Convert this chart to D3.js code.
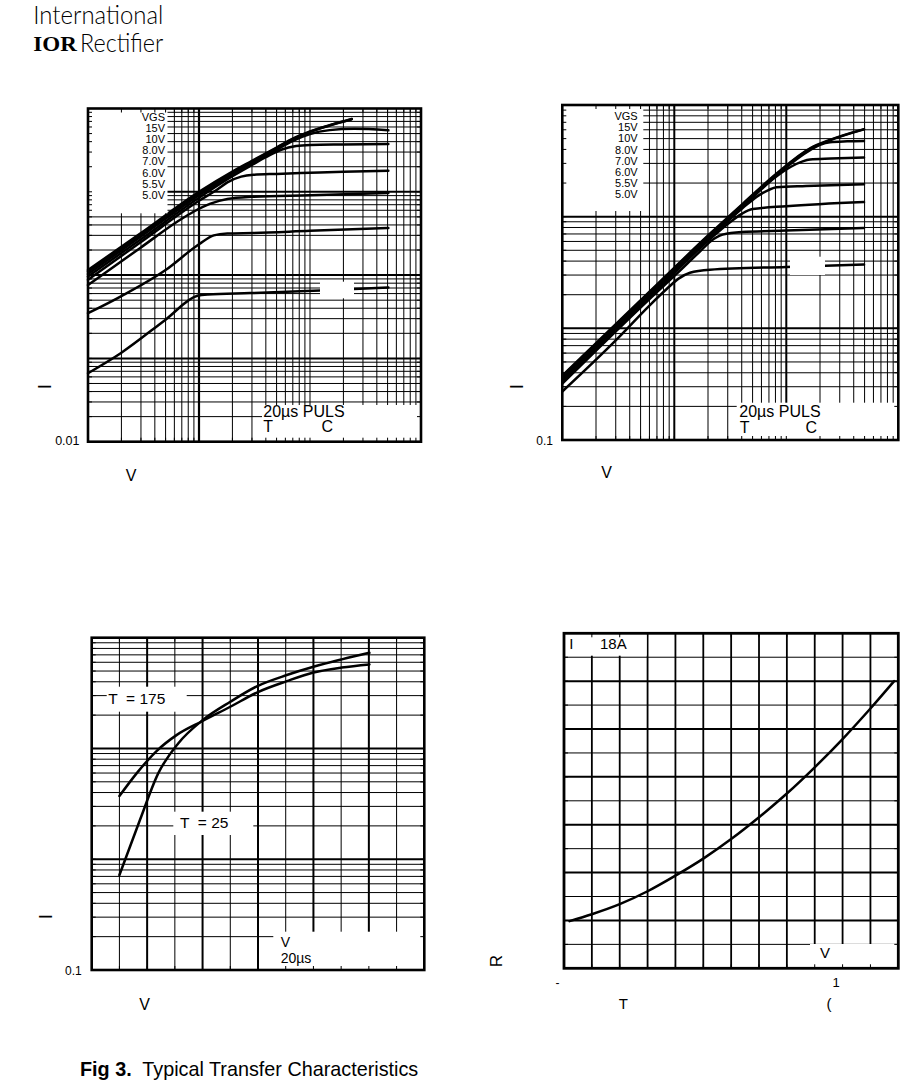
<!DOCTYPE html>
<html><head><meta charset="utf-8">
<script src="https://cdn.jsdelivr.net/npm/d3@7"></script>
<style>
html,body{margin:0;padding:0;background:#fff;}
svg{display:block;}
text{font-family:"Liberation Sans",Arial,Helvetica,sans-serif;fill:#000;}
</style></head><body>
<svg id="page" width="922" height="1081"></svg>
<script>
// ===================== DATA =====================
const vgsLegend = ["VGS","15V","10V","8.0V","7.0V","6.0V","5.5V","5.0V"];

// Fig 1 : ID (A) vs VDS (V), Tj = 25 C   -> [VDS, ID]
const fig1_15V  = [[0.1,1.15],[0.3,3.2],[1,10],[2,17.5],[3,23.5],[5,34],[7,43.5],[10,53],[15,63],[23.8,75]];
const fig1_10V  = [[0.1,1.10],[0.3,3.05],[1,9.6],[2,17],[3,23],[5,33.5],[7,43],[10,52.5],[15,62.5],[23.8,74.5]];
const fig1_8V   = [[0.1,1.03],[0.3,2.9],[1,9.1],[2,16.3],[3,22.2],[5,32],[7,41],[10,49.5],[15,55],[25,57],[50.8,54.7]];
const fig1_7V   = [[0.1,0.96],[0.3,2.7],[1,8.5],[2,15.4],[3,21],[4,26],[5.5,32],[7.5,35.5],[10,36.5],[20,37],[50.8,37.5]];
const fig1_6V   = [[0.1,0.88],[0.3,2.5],[1,7.8],[1.45,10.6],[1.8,13],[2.4,15.2],[3.1,16],[5,16.4],[10,16.9],[20,17.4],[50.8,17.9]];
const fig1_5V5  = [[0.1,0.76],[0.3,2.15],[0.64,4.4],[0.9,5.8],[1.27,7.2],[1.8,8.2],[3,8.7],[10,9.1],[50.8,9.7]];
const fig1_5V   = [[0.1,0.349],[0.2,0.56],[0.5,1.15],[1,2.35],[1.36,3.0],[1.8,3.15],[3.1,3.2],[10,3.4],[50.8,3.67]];
const fig1_4V5  = [[0.1,0.0664],[0.197,0.1155],[0.5,0.292],[0.966,0.564],[1.2,0.585],[2.88,0.608],[12.3,0.653],[50.8,0.71]];

// Fig 2 : ID (A) vs VDS (V), Tj = 175 C  -> [VDS, ID]
const fig2_15V  = [[0.1,0.377],[0.607,2.15],[2.08,7.03],[4.1,13.1],[8.2,24.4],[16.3,41],[24.5,48.7],[49.4,60.8]];
const fig2_10V  = [[0.1,0.37],[0.607,2.11],[2.08,6.9],[4.1,12.9],[8.2,24.0],[16.3,40.5],[24.5,48.3],[49.4,60.5]];
const fig2_8V   = [[0.1,0.36],[0.607,2.06],[2.08,6.75],[4.1,12.6],[8.2,23.6],[16.3,39.5],[20,44],[24.5,46.5],[35,47.3],[49.4,47.7]];
const fig2_7V   = [[0.1,0.35],[0.607,2.0],[2.08,6.6],[4.1,12.3],[8.2,23],[11,28],[14,31.3],[16.3,32.5],[25,33.1],[49.4,33.8]];
const fig2_6V   = [[0.1,0.34],[0.607,1.95],[2.08,6.45],[4.1,12],[5.5,15.2],[7,17.4],[8.2,18.3],[15,18.8],[49.4,19.5]];
const fig2_5V5  = [[0.1,0.33],[0.607,1.9],[2.08,6.3],[3,8.6],[4,10.6],[5,11.7],[10,12.4],[49.4,13.5]];
const fig2_5V   = [[0.1,0.32],[0.607,1.85],[1.2,3.5],[1.7,4.9],[2.1,6.0],[2.7,6.9],[4,7.3],[10,7.5],[49.4,7.91]];
const fig2_4V5  = [[0.1,0.272],[0.3,0.78],[0.6,1.6],[0.855,2.25],[1.1,2.8],[1.38,3.15],[2.08,3.35],[10,3.55],[49.4,3.72]];

// Fig 3 : Transfer characteristics ID (A) vs VGS (V)
const fig3_vgs   = [4.5, 4.81, 5.17, 5.53, 6.0, 6.5, 7.0, 7.52, 8.0, 8.51, 9.01];
const fig3_id175 = [3.72, 5.96, 9.48, 13.2, 17.7, 23.8, 32.3, 40.5, 48.5, 53.8, 57.4];
const fig3_vgs25 = [4.5, 4.87, 5.2, 5.56, 6.0, 6.5, 7.0, 7.52, 8.0, 8.51, 9.01];
const fig3_id25  = [0.72, 2.26, 5.96, 11.1, 18.0, 26.4, 36.8, 46.0, 54.6, 63.7, 73.1];

// Fig 4 : normalized RDS(on) vs TJ (C)
const fig4_tj   = [-56, -40, -20, 0, 20, 40, 60, 80, 100, 120, 140, 160, 177];
const fig4_rds  = [0.493, 0.565, 0.67, 0.805, 0.968, 1.146, 1.35, 1.578, 1.826, 2.10, 2.395, 2.714, 3.00];

// ===================== LAYOUT =====================
const svg = d3.select("#page");
svg.append("rect").attr("width",922).attr("height",1081).attr("fill","#fff");

const P1 = {left:88,  right:421,   top:108.5, bottom:441.7};
const P2 = {left:562.3,right:898.3,top:105,   bottom:440};
const P3 = {left:91.7, right:424.3,top:637.7, bottom:970};
const P4 = {left:564,  right:898.3,top:633.3, bottom:968.3};

const isDecade = v => Math.abs(Math.log10(v) - Math.round(Math.log10(v))) < 1e-6;

function drawPanel(P, xs, ys, xGrid, yGrid, xW, yW, curves, boxes, frameW) {
  const g = svg.append("g");
  const xin = xGrid.filter(v => xs(v) > P.left + 0.8 && xs(v) < P.right - 0.8);
  const yin = yGrid.filter(v => ys(v) < P.bottom - 0.8 && ys(v) > P.top + 0.8);
  g.append("g").selectAll("line").data(xin).join("line")
    .attr("x1", d => xs(d)).attr("x2", d => xs(d))
    .attr("y1", P.top).attr("y2", P.bottom)
    .attr("stroke", "#000").attr("stroke-width", d => xW(d));
  g.append("g").selectAll("line").data(yin).join("line")
    .attr("y1", d => ys(d)).attr("y2", d => ys(d))
    .attr("x1", P.left).attr("x2", P.right)
    .attr("stroke", "#000").attr("stroke-width", d => yW(d));
  const line = d3.line().x(d => xs(d[0])).y(d => ys(d[1])).curve(d3.curveMonotoneX);
  g.append("g").selectAll("path").data(curves).join("path")
    .attr("d", d => line(d)).attr("fill", "none").attr("stroke", "#000")
    .attr("stroke-width", 2.5).attr("stroke-linejoin", "round").attr("stroke-linecap", "round");
  g.append("g").selectAll("rect").data(boxes).join("rect")
    .attr("x", d => d[0]).attr("y", d => d[1]).attr("width", d => d[2] - d[0]).attr("height", d => d[3] - d[1])
    .attr("fill", "#fff");
  const tk = 4;
  const tg = g.append("g").attr("stroke", "#000").attr("stroke-width", 1);
  xin.forEach(v => {
    tg.append("line").attr("x1", xs(v)).attr("x2", xs(v)).attr("y1", P.bottom).attr("y2", P.bottom - tk);
    tg.append("line").attr("x1", xs(v)).attr("x2", xs(v)).attr("y1", P.top).attr("y2", P.top + tk);
  });
  yin.forEach(v => {
    tg.append("line").attr("y1", ys(v)).attr("y2", ys(v)).attr("x1", P.left).attr("x2", P.left + tk);
    tg.append("line").attr("y1", ys(v)).attr("y2", ys(v)).attr("x1", P.right).attr("x2", P.right - tk);
  });
  g.append("rect").attr("x", P.left).attr("y", P.top)
    .attr("width", P.right - P.left).attr("height", P.bottom - P.top)
    .attr("fill", "none").attr("stroke", "#000").attr("stroke-width", frameW);
  return g;
}

function txt(x, y, s, size, opts = {}) {
  const t = svg.append("text").attr("x", x).attr("y", y).attr("font-size", size)
    .attr("xml:space", "preserve").style("white-space", "pre").text(s);
  if (opts.anchor) t.attr("text-anchor", opts.anchor);
  if (opts.weight) t.attr("font-weight", opts.weight);
  if (opts.rotate) t.attr("transform", `rotate(${opts.rotate},${x},${y})`).attr("dominant-baseline", "central");
  if (opts.family) t.style("font-family", opts.family);
  return t;
}

// ---------- Fig 1 ----------
{
  const xs = d3.scaleLog().domain([0.1, 100]).range([P1.left, P1.right]);
  const ys = d3.scaleLog().domain([0.01, 100]).range([P1.bottom, P1.top]);
  drawPanel(P1, xs, ys, xs.ticks(), ys.ticks(),
    v => Math.abs(v - 1) < 1e-6 ? 2.2 : 1, v => isDecade(v) ? 2 : 1,
    [fig1_15V, fig1_10V, fig1_8V, fig1_7V, fig1_6V, fig1_5V5, fig1_5V, fig1_4V5],
    [[P1.left, P1.top, 167.5, 213.3], [262, 405, P1.right, P1.bottom], [320, 281.7, 354, 298.3]], 2.6);
  vgsLegend.forEach((s, i) => txt(165, 120.5 + i * 11.2, s, 11, {anchor: "end"}));
  txt(263.3, 417, "20µs PULS", 16);
  txt(263.3, 432, "T", 16);
  txt(321.5, 432, "C", 16);
  txt(79.5, 444.5, "0.01", 12.5, {anchor: "end"});
  txt(131, 480.7, "V", 16, {anchor: "middle"});
  txt(44.5, 386.7, "I", 19, {anchor: "middle", rotate: -90});
}

// ---------- Fig 2 ----------
{
  const xs = d3.scaleLog().domain([0.1, 100]).range([P2.left, P2.right]);
  const ys = d3.scaleLog().domain([0.1, 100]).range([P2.bottom, P2.top]);
  drawPanel(P2, xs, ys, xs.ticks(), ys.ticks(),
    v => isDecade(v) ? 2 : 1, v => isDecade(v) ? 2 : 1,
    [fig2_15V, fig2_10V, fig2_8V, fig2_7V, fig2_6V, fig2_5V5, fig2_5V, fig2_4V5],
    [[P2.left, P2.top, 643.3, 211], [736.7, 402.7, P2.right, P2.bottom], [790, 256.7, 825, 275]], 2.6);
  vgsLegend.forEach((s, i) => txt(637.7, 120 + i * 11.2, s, 11, {anchor: "end"}));
  txt(739.3, 417, "20µs PULS", 16);
  txt(739.8, 433, "T", 16);
  txt(805.5, 433, "C", 16);
  txt(553, 445, "0.1", 12, {anchor: "end"});
  txt(606.7, 478.3, "V", 16, {anchor: "middle"});
  txt(516.3, 386.7, "I", 19, {anchor: "middle", rotate: -90});
}

// ---------- Fig 3 ----------
{
  const xs = d3.scaleLinear().domain([4, 10]).range([P3.left, P3.right]);
  const ys = d3.scaleLog().domain([0.1, 100]).range([P3.bottom, P3.top]);
  const c175 = fig3_vgs.map((v, i) => [v, fig3_id175[i]]);
  const c25 = fig3_vgs25.map((v, i) => [v, fig3_id25[i]]);
  drawPanel(P3, xs, ys, d3.range(4, 10.001, 0.5), ys.ticks(),
    v => Math.abs(v - Math.round(v)) < 1e-6 ? 2 : 1, v => isDecade(v) ? 2 : 1,
    [c175, c25],
    [[106.7, 686.7, 186.7, 711.7], [173.3, 811.7, 253.3, 835], [273.3, 931.7, P3.right, P3.bottom]], 2.6);
  txt(108.3, 703.5, "T  = 175", 15.5);
  txt(180, 828.3, "T  = 25", 15.5);
  txt(280.7, 946.7, "V", 14);
  txt(280.7, 963.3, "20µs", 14);
  txt(81.7, 975, "0.1", 12, {anchor: "end"});
  txt(144.7, 1009.5, "V", 16, {anchor: "middle"});
  txt(45.8, 916.7, "I", 19, {anchor: "middle", rotate: -90});
}

// ---------- Fig 4 ----------
{
  const xs = d3.scaleLinear().domain([-60, 180]).range([P4.left, P4.right]);
  const ys = d3.scaleLinear().domain([0, 3.5]).range([P4.bottom, P4.top]);
  const c = fig4_tj.map((t, i) => [t, fig4_rds[i]]);
  drawPanel(P4, xs, ys, d3.range(-60, 180.001, 20), d3.range(0, 3.5001, 0.25),
    v => 1.8, v => Math.abs(v * 2 - Math.round(v * 2)) < 1e-6 ? 2 : 1,
    [c],
    [[P4.left + 1, P4.top + 1, 646.7, 655.7], [810, 944, P4.right, P4.bottom]], 2.8);
  txt(569.3, 649, "I", 15);
  txt(600, 649, "18A", 15);
  txt(820, 958.3, "V", 15);
  txt(557.5, 987, "-", 12, {anchor: "middle"});
  txt(836, 987, "1", 13, {anchor: "middle"});
  txt(623.3, 1009, "T", 15, {anchor: "middle"});
  txt(829, 1009, "(", 15, {anchor: "middle"});
  txt(496.5, 961, "R", 17, {anchor: "middle", rotate: -90});
}

// ---------- Header & caption ----------
txt(33.3, 23.5, "International", 25, {family: "Lato, 'Open Sans', sans-serif", weight: 300})
  .attr("textLength", 130).attr("lengthAdjust", "spacingAndGlyphs");
txt(33.3, 51, "IOR", 20, {family: "'Liberation Serif', 'DejaVu Serif', serif", weight: 900})
  .attr("textLength", 43.5).attr("lengthAdjust", "spacingAndGlyphs");
txt(80, 51.5, "Rectifier", 25, {family: "Lato, 'Open Sans', sans-serif", weight: 300})
  .attr("textLength", 83.3).attr("lengthAdjust", "spacingAndGlyphs");

const cap = svg.append("text").attr("x", 80).attr("y", 1076).attr("font-size", 19.8)
  .attr("xml:space", "preserve").style("white-space", "pre");
cap.append("tspan").attr("font-weight", "bold").text("Fig 3.");
cap.append("tspan").text("  Typical Transfer Characteristics");
</script>
</body></html>
